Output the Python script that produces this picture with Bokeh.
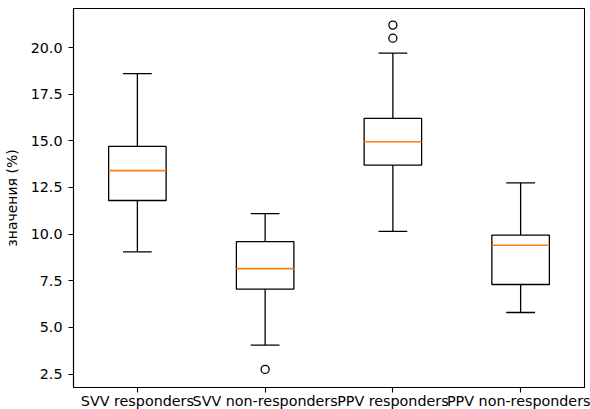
from bokeh.plotting import figure
from bokeh.models import FixedTicker, PrintfTickFormatter, Range1d, ColumnDataSource
from bokeh.embed import file_html
from bokeh.resources import INLINE

categories = ["SVV responders", "SVV non-responders", "PPV responders", "PPV non-responders"]
positions = [1, 2, 3, 4]
whislo = [9.05, 4.05, 10.15, 5.8]
q1 = [11.8, 7.05, 13.7, 7.3]
median = [13.4, 8.15, 14.95, 9.4]
q3 = [14.7, 9.6, 16.2, 9.95]
whishi = [18.6, 11.1, 19.7, 12.75]
outlier_x = [2, 3, 3]
outlier_y = [2.75, 20.5, 21.2]
y_ticks = [2.5, 5.0, 7.5, 10.0, 12.5, 15.0, 17.5, 20.0]

box_w = 0.45
cap_w = box_w / 2

src = ColumnDataSource(dict(
    x=positions,
    left=[x - box_w / 2 for x in positions],
    right=[x + box_w / 2 for x in positions],
    capl=[x - cap_w / 2 for x in positions],
    capr=[x + cap_w / 2 for x in positions],
    whislo=whislo, q1=q1, median=median, q3=q3, whishi=whishi,
))

p = figure(width=590, height=413, output_backend="svg", toolbar_location=None,
           x_range=Range1d(0.5, 4.5), y_range=Range1d(1.78, 22.09),
           min_border_left=73, min_border_right=6, min_border_top=8, min_border_bottom=26)

p.segment(x0="x", y0="q3", x1="x", y1="whishi", source=src, line_color="black", line_width=1.3)
p.segment(x0="x", y0="whislo", x1="x", y1="q1", source=src, line_color="black", line_width=1.3)
p.segment(x0="capl", y0="whishi", x1="capr", y1="whishi", source=src, line_color="black", line_width=1.3)
p.segment(x0="capl", y0="whislo", x1="capr", y1="whislo", source=src, line_color="black", line_width=1.3)
p.quad(left="left", right="right", bottom="q1", top="q3", source=src,
       fill_color=None, line_color="black", line_width=1.3)
p.segment(x0="left", y0="median", x1="right", y1="median", source=src, line_color="#ff7f0e", line_width=1.6)
p.scatter(outlier_x, outlier_y, marker="circle", size=8, fill_color=None, line_color="black", line_width=1.3)

p.grid.visible = False
p.outline_line_color = "black"
p.outline_line_width = 1.1

p.xaxis.ticker = FixedTicker(ticks=positions)
p.xaxis.major_label_overrides = {pos: lab for pos, lab in zip(positions, categories)}
p.yaxis.ticker = FixedTicker(ticks=y_ticks)
p.yaxis.formatter = PrintfTickFormatter(format="%.1f")
p.yaxis.axis_label = "значения (%)"

for ax in (p.xaxis[0], p.yaxis[0]):
    ax.axis_line_color = "black"
    ax.axis_line_width = 1.1
    ax.major_tick_line_color = "black"
    ax.major_tick_line_width = 1.1
    ax.major_tick_in = 0
    ax.major_tick_out = 5
    ax.minor_tick_line_color = None
    ax.major_label_text_font = "DejaVu Sans"
    ax.major_label_text_font_size = "14.3px"
    ax.major_label_text_color = "black"
    ax.axis_label_text_font = "DejaVu Sans"
    ax.axis_label_text_font_size = "14px"
    ax.axis_label_text_font_style = "normal"
    ax.axis_label_text_color = "black"

p.xaxis.major_label_standoff = 0
p.yaxis.major_label_standoff = 6
p.yaxis.axis_label_standoff = 8

open("out.html", "w").write(file_html(p, INLINE))
